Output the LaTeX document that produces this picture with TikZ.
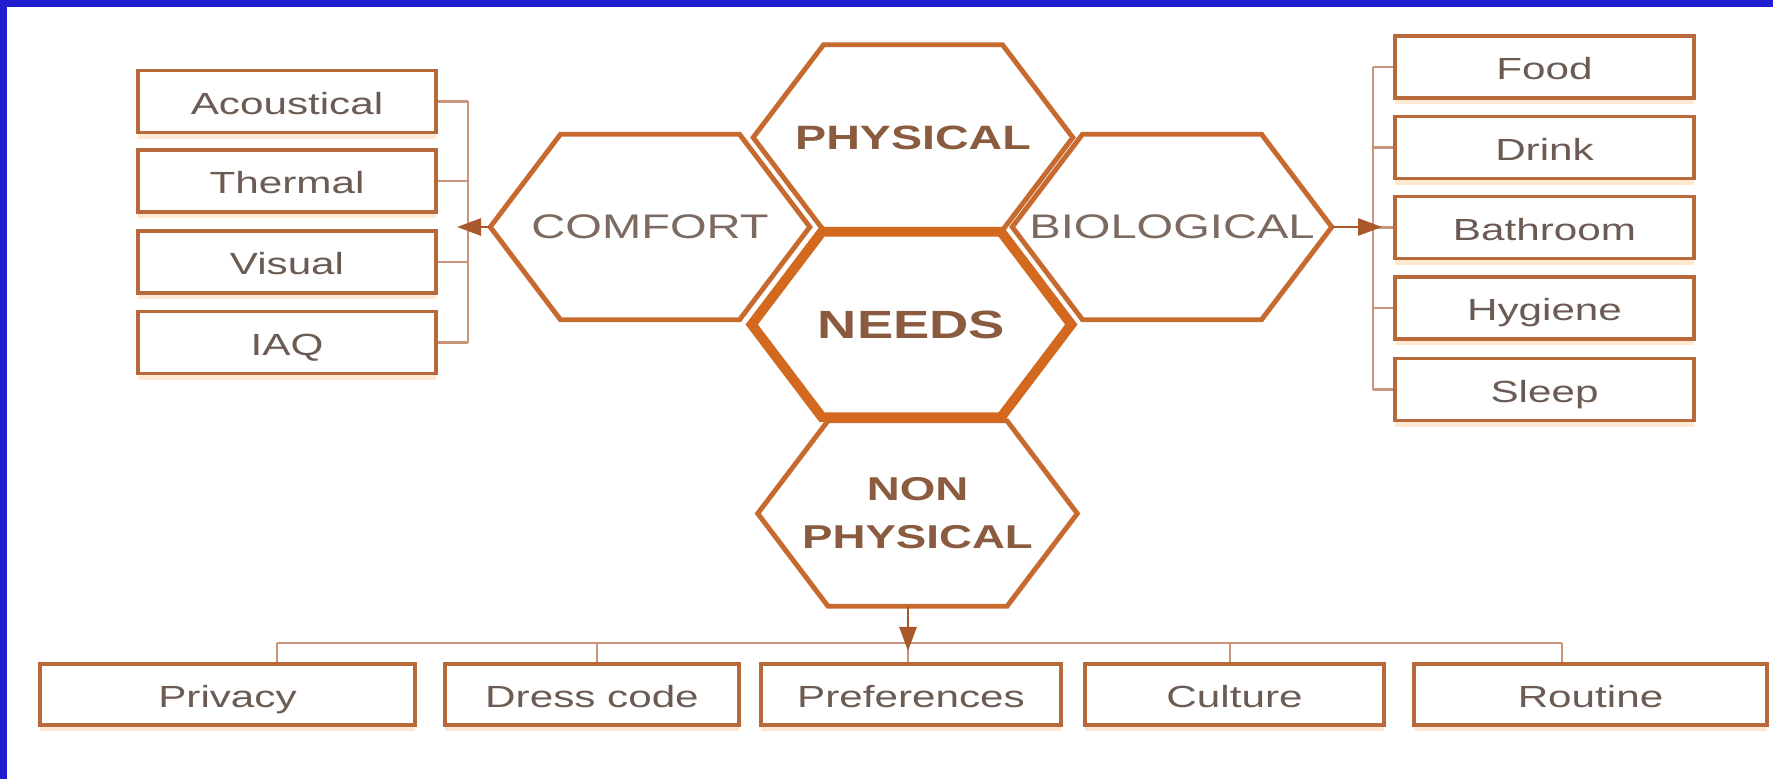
\documentclass[tikz,border=0pt]{standalone}
\usepackage{fontspec}
\setmainfont{Liberation Sans}[FakeStretch=1.38]
\usetikzlibrary{calc,arrows.meta,shadows}
\definecolor{bluebg}{HTML}{1F1FCF}
\definecolor{hexc}{HTML}{C66A30}
\definecolor{needc}{HTML}{D2691E}
\definecolor{boxc}{HTML}{B8693A}
\definecolor{brc}{HTML}{C9957A}
\definecolor{txtc}{HTML}{6B5B53}
\definecolor{hextxt}{HTML}{7C6A60}
\definecolor{boldtxt}{HTML}{8A5B3E}
\definecolor{arrc}{HTML}{A8582A}
\newcommand\hexdraw[2]{\draw[#2] (#1.west) -- ($(#1.north west)!0.22!(#1.north east)$) -- ($(#1.north east)!0.22!(#1.north west)$) -- (#1.east) -- ($(#1.south east)!0.22!(#1.south west)$) -- ($(#1.south west)!0.22!(#1.south east)$) -- cycle;}
\begin{document}
\begin{tikzpicture}[x=0.01cm,y=-0.01cm,
  hexnode/.style={minimum width=3.18cm,minimum height=1.84cm,inner sep=0pt,align=center},
  hexline/.style={draw=hexc,line width=1.4pt,line join=miter},
  needline/.style={draw=needc,line width=2.8pt,line join=miter},
  itembox/.style={draw=boxc,line width=1pt,fill=white,minimum height=0.62cm,inner sep=0pt,
    text height=1.38ex,text depth=0pt,font=\fontsize{8.7}{10}\selectfont,text=txtc,
    drop shadow={shadow xshift=0pt,shadow yshift=-0.06cm,fill=orange!40,opacity=0.45}},
  bracket/.style={draw=brc,line width=0.7pt},
  arrowline/.style={draw=arrc,line width=0.8pt,-{Triangle[length=0.24cm,width=0.17cm]}}]
\useasboundingbox (0,0) rectangle (1773,779);
\fill[bluebg] (0,0) rectangle (1773,779);
\fill[white] (7,7) rectangle (1773,779);

% hexagon labels
\node[hexnode,font=\fontsize{9.7}{12}\selectfont,text=hextxt] (comfort) at (650,227) {COMFORT};
\node[hexnode,font=\bfseries\fontsize{9.6}{12}\selectfont,text=boldtxt] (phys) at (913,137.5) {PHYSICAL};
\node[hexnode,font=\fontsize{9.7}{12}\selectfont,text=hextxt] (bio) at (1172,227) {BIOLOGICAL};
\node[hexnode,font=\bfseries\fontsize{11.2}{13}\selectfont,text=boldtxt] (needs) at (911.5,324.5) {NEEDS};
\node[hexnode,font=\bfseries\fontsize{9.4}{13.7}\selectfont,text=boldtxt] (nonphys) at (917.5,513.5) {NON\\PHYSICAL};

\hexdraw{comfort}{hexline}
\hexdraw{phys}{hexline}
\hexdraw{bio}{hexline}
\hexdraw{nonphys}{hexline}
\hexdraw{needs}{needline}

% left boxes
\node[itembox,minimum width=2.98cm] (acou) at (287,101.5) {Acoustical};
\node[itembox,minimum width=2.98cm] (ther) at (287,181) {Thermal};
\node[itembox,minimum width=2.98cm] (visu) at (287,262) {Visual};
\node[itembox,minimum width=2.98cm] (iaq) at (287,342.5) {IAQ};

% right boxes
\node[itembox,minimum width=2.99cm] (food) at (1544.5,67) {Food};
\node[itembox,minimum width=2.99cm] (drink) at (1544.5,147.5) {Drink};
\node[itembox,minimum width=2.99cm] (bath) at (1544.5,227.5) {Bathroom};
\node[itembox,minimum width=2.99cm] (hyg) at (1544.5,308) {Hygiene};
\node[itembox,minimum width=2.99cm] (sleep) at (1544.5,389.5) {Sleep};

% bottom boxes
\node[itembox,minimum width=3.75cm,minimum height=0.61cm] (priv) at (227.5,694.5) {Privacy};
\node[itembox,minimum width=2.94cm,minimum height=0.61cm] (dress) at (592,694.5) {Dress code};
\node[itembox,minimum width=3.00cm,minimum height=0.61cm] (pref) at (911,694.5) {Preferences};
\node[itembox,minimum width=2.99cm,minimum height=0.61cm] (cult) at (1234.5,694.5) {Culture};
\node[itembox,minimum width=3.53cm,minimum height=0.61cm] (rout) at (1590.5,694.5) {Routine};

% left bracket
\coordinate (brL) at (468,0);
\foreach \b in {acou,ther,visu,iaq} {\draw[bracket] (\b.east) -- (\b.east -| brL);}
\draw[bracket] (acou.east -| brL) -- (iaq.east -| brL);
\coordinate (lTip) at (457,227);
\draw[arrowline] (comfort.west) -- (lTip);

% right bracket
\coordinate (brR) at (1373,0);
\foreach \b in {food,drink,bath,hyg,sleep} {\draw[bracket] (\b.west) -- (\b.west -| brR);}
\draw[bracket] (food.west -| brR) -- (sleep.west -| brR);
\coordinate (rTip) at (1382,227);
\draw[arrowline] (bio.east) -- (rTip);

% bottom bracket
\coordinate (t1) at (277,643);
\coordinate (t2) at (597,643);
\coordinate (t3) at (908,643);
\coordinate (t4) at (1230,643);
\coordinate (t5) at (1562,643);
\draw[bracket] (t1) -- (t5);
\draw[bracket] (t1) -- (t1 |- priv.north);
\draw[bracket] (t2) -- (t2 |- dress.north);
\draw[bracket] (t3) -- (t3 |- pref.north);
\draw[bracket] (t4) -- (t4 |- cult.north);
\draw[bracket] (t5) -- (t5 |- rout.north);
\coordinate (bTip) at (908,651);
\draw[arrowline] (t3 |- nonphys.south) -- (bTip);
\end{tikzpicture}
\end{document}
